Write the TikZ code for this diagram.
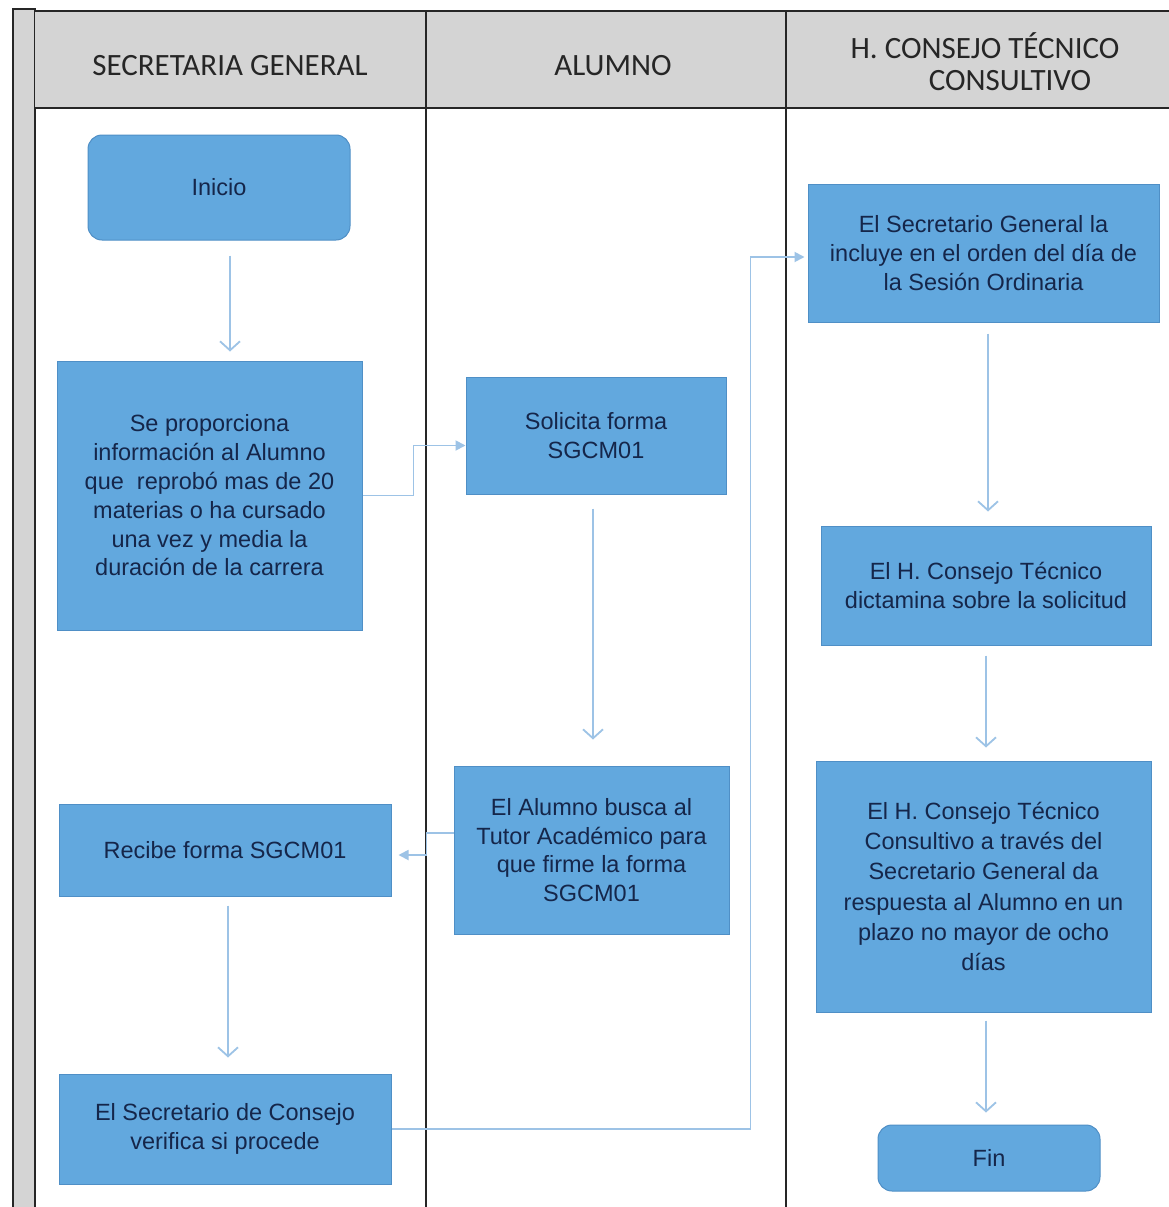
\documentclass[tikz,border=0pt]{standalone}
\usepackage{fontspec}
\setmainfont{Liberation Sans}
\newfontfamily\hdrfont{Carlito}
\usetikzlibrary{arrows.meta}
\definecolor{boxblue}{HTML}{62A8DE}
\definecolor{boxedge}{HTML}{4F8FC6}
\definecolor{arrowblue}{HTML}{9DC3E6}
\definecolor{txtnavy}{HTML}{15264A}
\definecolor{hdrgray}{HTML}{D4D4D4}
\begin{document}
\begin{tikzpicture}[x=1pt,y=-1pt,
 procbox/.style={draw=boxedge, line width=1pt, fill=boxblue, text=txtnavy, align=center, font=\fontsize{23.5}{28.8}\selectfont, inner sep=0pt},
 termbox/.style={procbox, rounded corners=14pt},
 flow/.style={draw=arrowblue, line width=1.8pt, -{Straight Barb[length=9pt,width=20pt]}},
 flowh/.style={draw=arrowblue, line width=1.8pt, -{Triangle[length=10pt,width=10pt]}},
 hdr/.style={font=\hdrfont\fontsize{31}{35}\selectfont, text=black!85, align=center},
 lane/.style={draw=black!85, line width=1.2pt}]

\useasboundingbox (0,0) rectangle (1168,1207);
\fill[white] (0,0) rectangle (1168,1207);

% frame
\draw[lane, fill=hdrgray, line width=1.5pt] (13,9) rectangle (35,1220);
\fill[hdrgray] (35,11) rectangle (1175,108);
\draw[lane, line width=1.8pt] (35,11) -- (1175,11);
\draw[lane] (35,108) -- (1175,108);
\draw[lane] (426,11) -- (426,1220);
\draw[lane] (786,11) -- (786,1220);

\node[hdr] (h1) at (230,66) {SECRETARIA GENERAL};
\node[hdr] (h2) at (613,66) {ALUMNO};
\node[hdr] (h3a) at (985,46) {H. CONSEJO TÉCNICO};
\node[hdr] (h3b) at (1010,81) {CONSULTIVO};

% nodes
\node[termbox, minimum width=262pt, minimum height=105pt] (inicio) at (219,187.5) {Inicio};
\node[procbox, minimum width=305pt, minimum height=269pt] (prop) at (209.5,495.5)
 {Se proporciona\\información al Alumno\\que\ \ reprobó mas de 20\\materias o ha cursado\\una vez y media la\\duración de la carrera};
\node[procbox, minimum width=260pt, minimum height=117pt] (solic) at (596,435.5) {Solicita forma\\SGCM01};
\node[procbox, minimum width=275pt, minimum height=168pt] (busca) at (591.5,850)
 {El Alumno busca al\\Tutor Académico para\\que firme la forma\\SGCM01};
\node[procbox, minimum width=332pt, minimum height=92pt] (recibe) at (225,850) {Recibe forma SGCM01};
\node[procbox, minimum width=332pt, minimum height=110pt] (verif) at (225,1129)
 {El Secretario de Consejo\\verifica si procede};
\node[procbox, minimum width=351pt, minimum height=138pt] (incl) at (983.5,253)
 {El Secretario General la\\incluye en el orden del día de\\la Sesión Ordinaria};
\node[procbox, minimum width=330pt, minimum height=119pt] (dict) at (986,585.5)
 {El H. Consejo Técnico\\dictamina sobre la solicitud};
\node[procbox, minimum width=335pt, minimum height=251pt, font=\fontsize{23.5}{30.2}\selectfont] (cons) at (983.5,886.5)
 {El H. Consejo Técnico\\Consultivo a través del\\Secretario General da\\respuesta al Alumno en un\\plazo no mayor de ocho\\días};
\node[termbox, minimum width=222pt, minimum height=66pt] (fin) at (989,1158) {Fin};

% connectors
\draw[flow] ([xshift=11pt,yshift=-15pt]inicio.south) -- ([xshift=20.5pt,yshift=9pt]prop.north);
\draw[flowh] (prop.east) -- ++(51,0) |- ([yshift=-10pt]solic.west);
\draw[flow] ([xshift=-3pt,yshift=-14pt]solic.south) -- ([xshift=1.5pt,yshift=26pt]busca.north);
\draw[flowh] ([yshift=17pt]busca.west) -- ++(-27,0) |- ([xshift=7pt,yshift=-5pt]recibe.east);
\draw[flow] ([xshift=3pt,yshift=-9pt]recibe.south) -- ([xshift=3pt,yshift=16pt]verif.north);
\draw[flowh] (verif.east) -- ++(359,0) |- ([xshift=-3pt,yshift=-4pt]incl.west);
\draw[flow] ([xshift=4.5pt,yshift=-11pt]incl.south) -- ([xshift=2pt,yshift=14pt]dict.north);
\draw[flow] ([yshift=-10pt]dict.south) -- ([xshift=2.5pt,yshift=13pt]cons.north);
\draw[flow] ([xshift=2.5pt,yshift=-8pt]cons.south) -- ([xshift=-3pt,yshift=12pt]fin.north);
\end{tikzpicture}
\end{document}
